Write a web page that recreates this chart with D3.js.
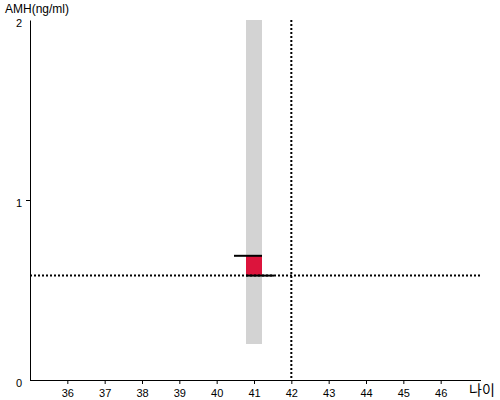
<!DOCTYPE html>
<html>
<head>
<meta charset="utf-8">
<script src="https://cdn.jsdelivr.net/npm/d3@7"></script>
<style>
    body { margin: 0; background: #fff; }
    svg text { font-family: "Liberation Sans", Arial, sans-serif; fill: #000; }
    .axis path, .axis line { stroke: #000; }
</style>
</head>
<body>
<div id="chart"></div>
<script>
// chart values
const xTicks = [36, 37, 38, 39, 40, 41, 42, 43, 44, 45, 46];
const yTicks = [0, 1, 2];
const ageValue = 41;
const bandRange = [0.2, 2];
const barRange = [0.58, 0.69];
const refAge = 42;
const refAmh = 0.58;

const width = 500, height = 400;
let svg = d3.select('#chart').append('svg')
    .attr('width', width)
    .attr('height', height);

let x = d3.scaleLinear().domain([35, 47]).range([30, 478]);
let y = d3.scaleLinear().domain([0, 2]).range([380, 20]);
const halfW = 8;

// gray band
svg.append('rect')
    .attr('x', x(ageValue) - halfW)
    .attr('width', halfW * 2)
    .attr('y', y(bandRange[1]))
    .attr('height', y(bandRange[0]) - y(bandRange[1]))
    .attr('fill', '#d3d3d3');

// red bar
svg.append('rect')
    .attr('x', x(ageValue) - halfW)
    .attr('width', halfW * 2)
    .attr('y', y(barRange[1]))
    .attr('height', y(barRange[0]) - y(barRange[1]))
    .attr('fill', '#dc143c');

// reference lines
svg.append('line')
    .attr('x1', x(35)).attr('x2', 481)
    .attr('y1', y(refAmh)).attr('y2', y(refAmh))
    .attr('stroke', '#000').attr('stroke-width', 2)
    .attr('stroke-dasharray', '2,2');

svg.append('line')
    .attr('x1', x(refAge)).attr('x2', x(refAge))
    .attr('y1', y(2)).attr('y2', y(0))
    .attr('stroke', '#000').attr('stroke-width', 2)
    .attr('stroke-dasharray', '2,2');

// marker lines on the bar
svg.append('line')
    .attr('x1', x(ageValue) - halfW - 12).attr('x2', x(ageValue) + halfW)
    .attr('y1', y(barRange[1])).attr('y2', y(barRange[1]))
    .attr('stroke', '#000').attr('stroke-width', 2);

svg.append('line')
    .attr('x1', x(ageValue) - halfW).attr('x2', x(ageValue) + halfW + 12)
    .attr('y1', y(barRange[0])).attr('y2', y(barRange[0]))
    .attr('stroke', '#000').attr('stroke-width', 2);

// axes
let xAxis = svg.append('g')
    .classed('axis', true)
    .attr('transform', `translate(0, ${y(0)})`)
    .call(d3.axisBottom(x).tickValues(xTicks).tickSize(4).tickSizeOuter(0).tickFormat(d3.format('d')));
xAxis.select('.domain').attr('d', `M30,0.5H481`);
xAxis.selectAll('text').attr('font-size', 11).attr('dy', '0.9em');

let yAxis = svg.append('g')
    .classed('axis', true)
    .attr('transform', `translate(${x(35)}, 0)`)
    .call(d3.axisLeft(y).tickValues(yTicks).tickSize(4).tickSizeOuter(0).tickFormat(d3.format('d')));
yAxis.selectAll('.tick line').attr('opacity', d => d === 1 ? 1 : 0);
yAxis.selectAll('text').attr('font-size', 11).attr('x', -8).attr('dy', '0.55em');

svg.append('text')
    .attr('x', 5).attr('y', 13)
    .attr('font-size', 12)
    .text('AMH(ng/ml)');

svg.append('text')
    .attr('x', 469).attr('y', 395)
    .attr('font-size', 14)
    .style('font-family', '"Noto Sans CJK KR", sans-serif')
    .text('나이');
</script>
</body>
</html>
